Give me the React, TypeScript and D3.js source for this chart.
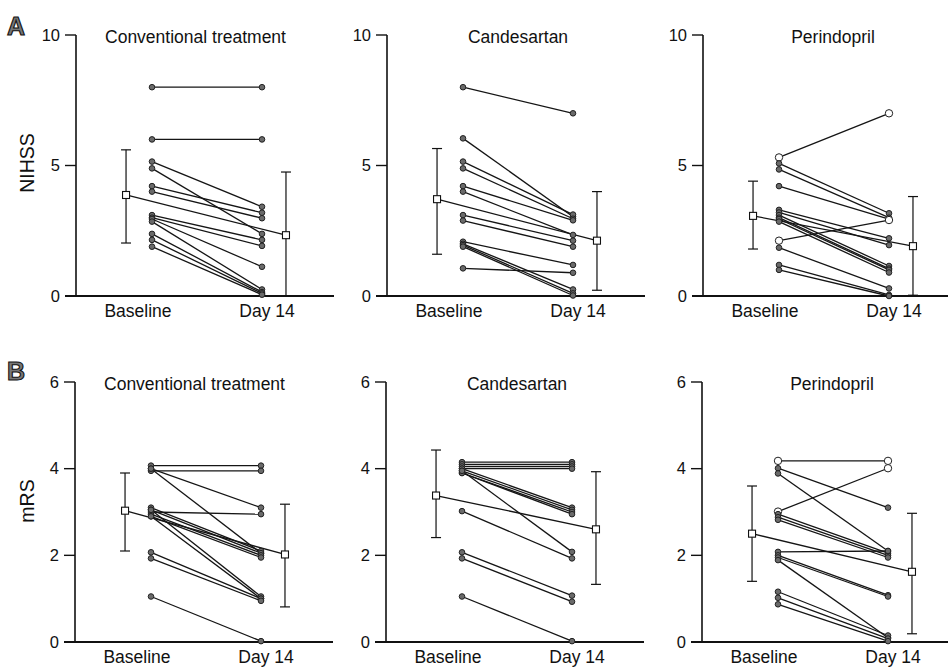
import React from "react";
import * as d3 from "d3";

// ---------- data ----------
const treatments = ["Conventional treatment", "Candesartan", "Perindopril"];
const timepoints = ["Baseline", "Day 14"];
const nihssTicks = [0, 5, 10];
const mrsTicks = [0, 2, 4, 6];

// NIHSS — individual patients (baseline, day 14)
const nihssConvBase = [8, 6, 5.15, 4.89, 4.21, 4.0, 3.1, 3.0, 2.95, 2.85, 2.38, 2.15, 1.89];
const nihssConvDay14 = [8, 6, 3.42, 2.38, 3.19, 2.98, 2.15, 1.92, 1.12, 0.25, 0.15, 0.1, 0.05];
const nihssCandBase = [8, 6.04, 5.15, 4.89, 4.21, 4.0, 3.1, 2.89, 2.08, 2.0, 1.95, 1.89, 1.06];
const nihssCandDay14 = [7, 3.04, 3.12, 2.96, 2.9, 2.34, 2.12, 1.89, 1.19, 0.25, 0.1, 0.02, 0.89];
const nihssPeriBase = [5.31, 5.08, 4.85, 4.21, 3.3, 3.2, 3.1, 3.0, 2.95, 2.85, 2.12, 1.85, 1.19, 1.0];
const nihssPeriDay14 = [7.0, 3.17, 3.0, 2.95, 2.21, 1.95, 1.15, 1.05, 1.0, 0.9, 2.91, 0.29, 0.04, 0.0];
const nihssPeriOpen = [true, false, false, false, false, false, false, false, false, false, true, false, false, false];

// mRS — individual patients
const mrsConvBase = [4.07, 3.95, 4.0, 4.0, 3.0, 3.1, 3.05, 2.95, 2.9, 3.05, 2.9, 2.07, 1.93, 1.05];
const mrsConvDay14 = [4.07, 3.95, 3.1, 2.05, 2.95, 2.1, 2.05, 2.0, 1.95, 1.05, 1.0, 1.0, 0.95, 0.02];
const mrsCandBase = [4.15, 4.1, 4.05, 4.0, 4.0, 3.95, 3.9, 3.9, 3.95, 3.02, 2.07, 1.93, 1.05];
const mrsCandDay14 = [4.15, 4.1, 4.05, 4.0, 3.1, 3.05, 3.0, 2.95, 2.08, 1.93, 1.07, 0.93, 0.02];
const mrsPeriBase = [4.18, 3.01, 4.01, 3.89, 2.95, 2.88, 2.82, 2.08, 2.0, 1.95, 1.89, 1.16, 1.02, 0.87];
const mrsPeriDay14 = [4.18, 4.01, 3.1, 2.1, 2.05, 2.0, 1.95, 2.1, 1.08, 1.05, 0.1, 0.15, 0.08, 0.02];
const mrsPeriOpen = [true, true, false, false, false, false, false, false, false, false, false, false, false, false];

// group means with SD bars: [mean, low, high] for baseline and day 14
const nihssConvStats = [[3.87, 2.03, 5.6], [2.33, 0, 4.75]];
const nihssCandStats = [[3.71, 1.6, 5.65], [2.12, 0.22, 4.0]];
const nihssPeriStats = [[3.07, 1.8, 4.4], [1.91, 0.03, 3.81]];
const mrsConvStats = [[3.03, 2.1, 3.9], [2.02, 0.81, 3.18]];
const mrsCandStats = [[3.38, 2.41, 4.43], [2.6, 1.33, 3.93]];
const mrsPeriStats = [[2.5, 1.4, 3.6], [1.62, 0.19, 2.97]];

// ---------- layout ----------
const W = 948;
const H = 667;
const panelX = [76, 387, 703];
const titleDx = [119.5, 131, 130];
const FONT = "'Liberation Sans', Arial, Helvetica, sans-serif";

type PanelDef = {
  base: number[];
  day: number[];
  open?: boolean[];
  stats: number[][];
};

const rowA: PanelDef[] = [
  { base: nihssConvBase, day: nihssConvDay14, stats: nihssConvStats },
  { base: nihssCandBase, day: nihssCandDay14, stats: nihssCandStats },
  { base: nihssPeriBase, day: nihssPeriDay14, open: nihssPeriOpen, stats: nihssPeriStats },
];
const rowB: PanelDef[] = [
  { base: mrsConvBase, day: mrsConvDay14, stats: mrsConvStats },
  { base: mrsCandBase, day: mrsCandDay14, stats: mrsCandStats },
  { base: mrsPeriBase, day: mrsPeriDay14, open: mrsPeriOpen, stats: mrsPeriStats },
];

function Panel({ x0, y, ticks, def, title, tdx }: { x0: number; y: d3.ScaleLinear<number, number>; ticks: number[]; def: PanelDef; title: string; tdx: number }) {
  // subjects at 0/1, group means at -0.236 / 1.218 on the same linear x scale
  const x = d3.scaleLinear().domain([0, 1]).range([x0 + 76, x0 + 186]);
  const meanPos = [-0.236, 1.218];
  const [y0, y1] = y.range();
  const line = d3.line<[number, number]>().x((d) => d[0]).y((d) => d[1]);
  const meanPts: [number, number][] = def.stats.map((s, i) => [x(meanPos[i]), y(s[0])]);
  const capW = 5;
  const sq = 7;
  return (
    <g>
      {/* y axis */}
      <line x1={x0} x2={x0} y1={y1} y2={y0} stroke="#111" strokeWidth={1.6} />
      {ticks.map((t) => (
        <g key={t}>
          <line x1={x0 - 11} x2={x0} y1={y(t)} y2={y(t)} stroke="#111" strokeWidth={1.4} />
          <text x={x0 - 16} y={y(t)} dy="0.35em" textAnchor="end" fontSize={16.5} fill="#111">
            {t}
          </text>
        </g>
      ))}
      {/* x axis */}
      <line x1={x0 - 11} x2={x0 + 258} y1={y0} y2={y0} stroke="#111" strokeWidth={1.8} />
      <text x={x0 + 62} y={y0 + 21} textAnchor="middle" fontSize={17.5} fill="#111">
        {timepoints[0]}
      </text>
      <text x={x0 + 191} y={y0 + 21} textAnchor="middle" fontSize={17.5} fill="#111">
        {timepoints[1]}
      </text>
      <text x={x0 + tdx} y={y1 + 8} textAnchor="middle" fontSize={17.5} fill="#111">
        {title}
      </text>
      {/* error bars */}
      {def.stats.map((s, i) => {
        const cx = x(meanPos[i]);
        return (
          <g key={"e" + i} stroke="#111" strokeWidth={1.2}>
            <line x1={cx} x2={cx} y1={y(s[1])} y2={y(s[2])} />
            <line x1={cx - capW} x2={cx + capW} y1={y(s[1])} y2={y(s[1])} />
            <line x1={cx - capW} x2={cx + capW} y1={y(s[2])} y2={y(s[2])} />
          </g>
        );
      })}
      {/* subject lines */}
      {def.base.map((b, i) => (
        <path key={"l" + i} d={line([[x(0), y(b)], [x(1), y(def.day[i])]]) || ""} stroke="#151515" strokeWidth={1.3} fill="none" />
      ))}
      {/* mean line */}
      <path d={line(meanPts) || ""} stroke="#151515" strokeWidth={1.3} fill="none" />
      {/* subject dots */}
      {def.base.map((b, i) => {
        const open = def.open ? def.open[i] : false;
        return (
          <g key={"d" + i}>
            <circle cx={x(0)} cy={y(b)} r={open ? 3.7 : 2.8} fill={open ? "#fff" : "#6a6a6a"} stroke="#222" strokeWidth={1} />
            <circle cx={x(1)} cy={y(def.day[i])} r={open ? 3.7 : 2.8} fill={open ? "#fff" : "#6a6a6a"} stroke="#222" strokeWidth={1} />
          </g>
        );
      })}
      {/* mean squares */}
      {meanPts.map((p, i) => (
        <rect key={"m" + i} x={p[0] - sq / 2} y={p[1] - sq / 2} width={sq} height={sq} fill="#fff" stroke="#111" strokeWidth={1.1} />
      ))}
    </g>
  );
}

export default function App() {
  const yA = d3.scaleLinear().domain([0, 10]).range([296, 35]);
  const yB = d3.scaleLinear().domain([0, 6]).range([642, 382]);
  return (
    <svg width={W} height={H} style={{ position: "absolute", left: 0, top: 0, background: "#fff" }} fontFamily={FONT}>
      <rect width={W} height={H} fill="#fff" />
      <text x={7} y={35} fontSize={25} fontWeight="bold" fill="#777" stroke="#111" strokeWidth={1.1}>
        A
      </text>
      <text x={7} y={380} fontSize={25} fontWeight="bold" fill="#777" stroke="#111" strokeWidth={1.1}>
        B
      </text>
      <text transform={`translate(34,163) rotate(-90)`} textAnchor="middle" fontSize={19.5} fill="#111">
        NIHSS
      </text>
      <text transform={`translate(34,501) rotate(-90)`} textAnchor="middle" fontSize={19.5} fill="#111">
        mRS
      </text>
      {rowA.map((def, i) => (
        <Panel key={"a" + i} x0={panelX[i]} y={yA} ticks={nihssTicks} def={def} title={treatments[i]} tdx={titleDx[i]} />
      ))}
      {rowB.map((def, i) => (
        <Panel key={"b" + i} x0={panelX[i] - 1} y={yB} ticks={mrsTicks} def={def} title={treatments[i]} tdx={titleDx[i]} />
      ))}
    </svg>
  );
}
